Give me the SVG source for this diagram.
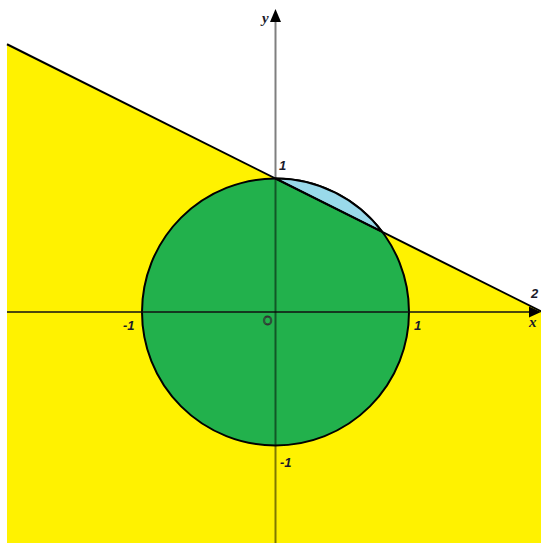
<svg xmlns="http://www.w3.org/2000/svg" width="541" height="543" viewBox="0 0 541 543">
<style>
.lbl{font-family:"Liberation Sans",Arial,sans-serif;font-weight:bold;font-style:italic;font-size:13px;fill:#1a1a2a}
.var{font-family:"Liberation Serif","Times New Roman",serif;font-weight:bold;font-style:italic;font-size:15px;fill:#1a1a2a}
</style>
<rect width="541" height="543" fill="#ffffff"/>
<g id="region">
<polygon points="7,44.25 542,311.75 542,543 7,543" fill="#fff200"/>
</g>
<g id="circle">
<circle cx="275.5" cy="312" r="133.5" fill="#22b14c" stroke="#000" stroke-width="2"/>
<path d="M275.5,178.5 A133.5,133.5 0 0 1 382.3,231.9 Z" fill="#99d9ea" stroke="#000" stroke-width="2"/>
</g>
<g id="connectors">
<line x1="7" y1="44.25" x2="542" y2="311.75" stroke="#000" stroke-width="2"/>
<line x1="7" y1="312" x2="533" y2="312" stroke="#111" stroke-width="1.5"/>
<polygon points="541,312 529,306.5 529,317.5" fill="#000"/>
<line x1="275.5" y1="543" x2="275.5" y2="20" stroke="#000" stroke-opacity="0.5" stroke-width="2"/>
<polygon points="275.5,9 270,22 281,22" fill="#000"/>
</g>
<g id="labels">
<text class="var" x="262" y="23">y</text>
<text class="var" x="529" y="327">x</text>
<text class="lbl" x="279" y="170">1</text>
<text class="lbl" x="531" y="298">2</text>
<text class="lbl" x="123" y="330">-1</text>
<text class="lbl" x="414" y="330">1</text>
<text class="lbl" x="280" y="467">-1</text>
<text x="263" y="325" style="font-family:'Liberation Sans',Arial,sans-serif;font-size:12px;fill:none;stroke:#333;stroke-width:0.8">O</text>
</g>
</svg>
